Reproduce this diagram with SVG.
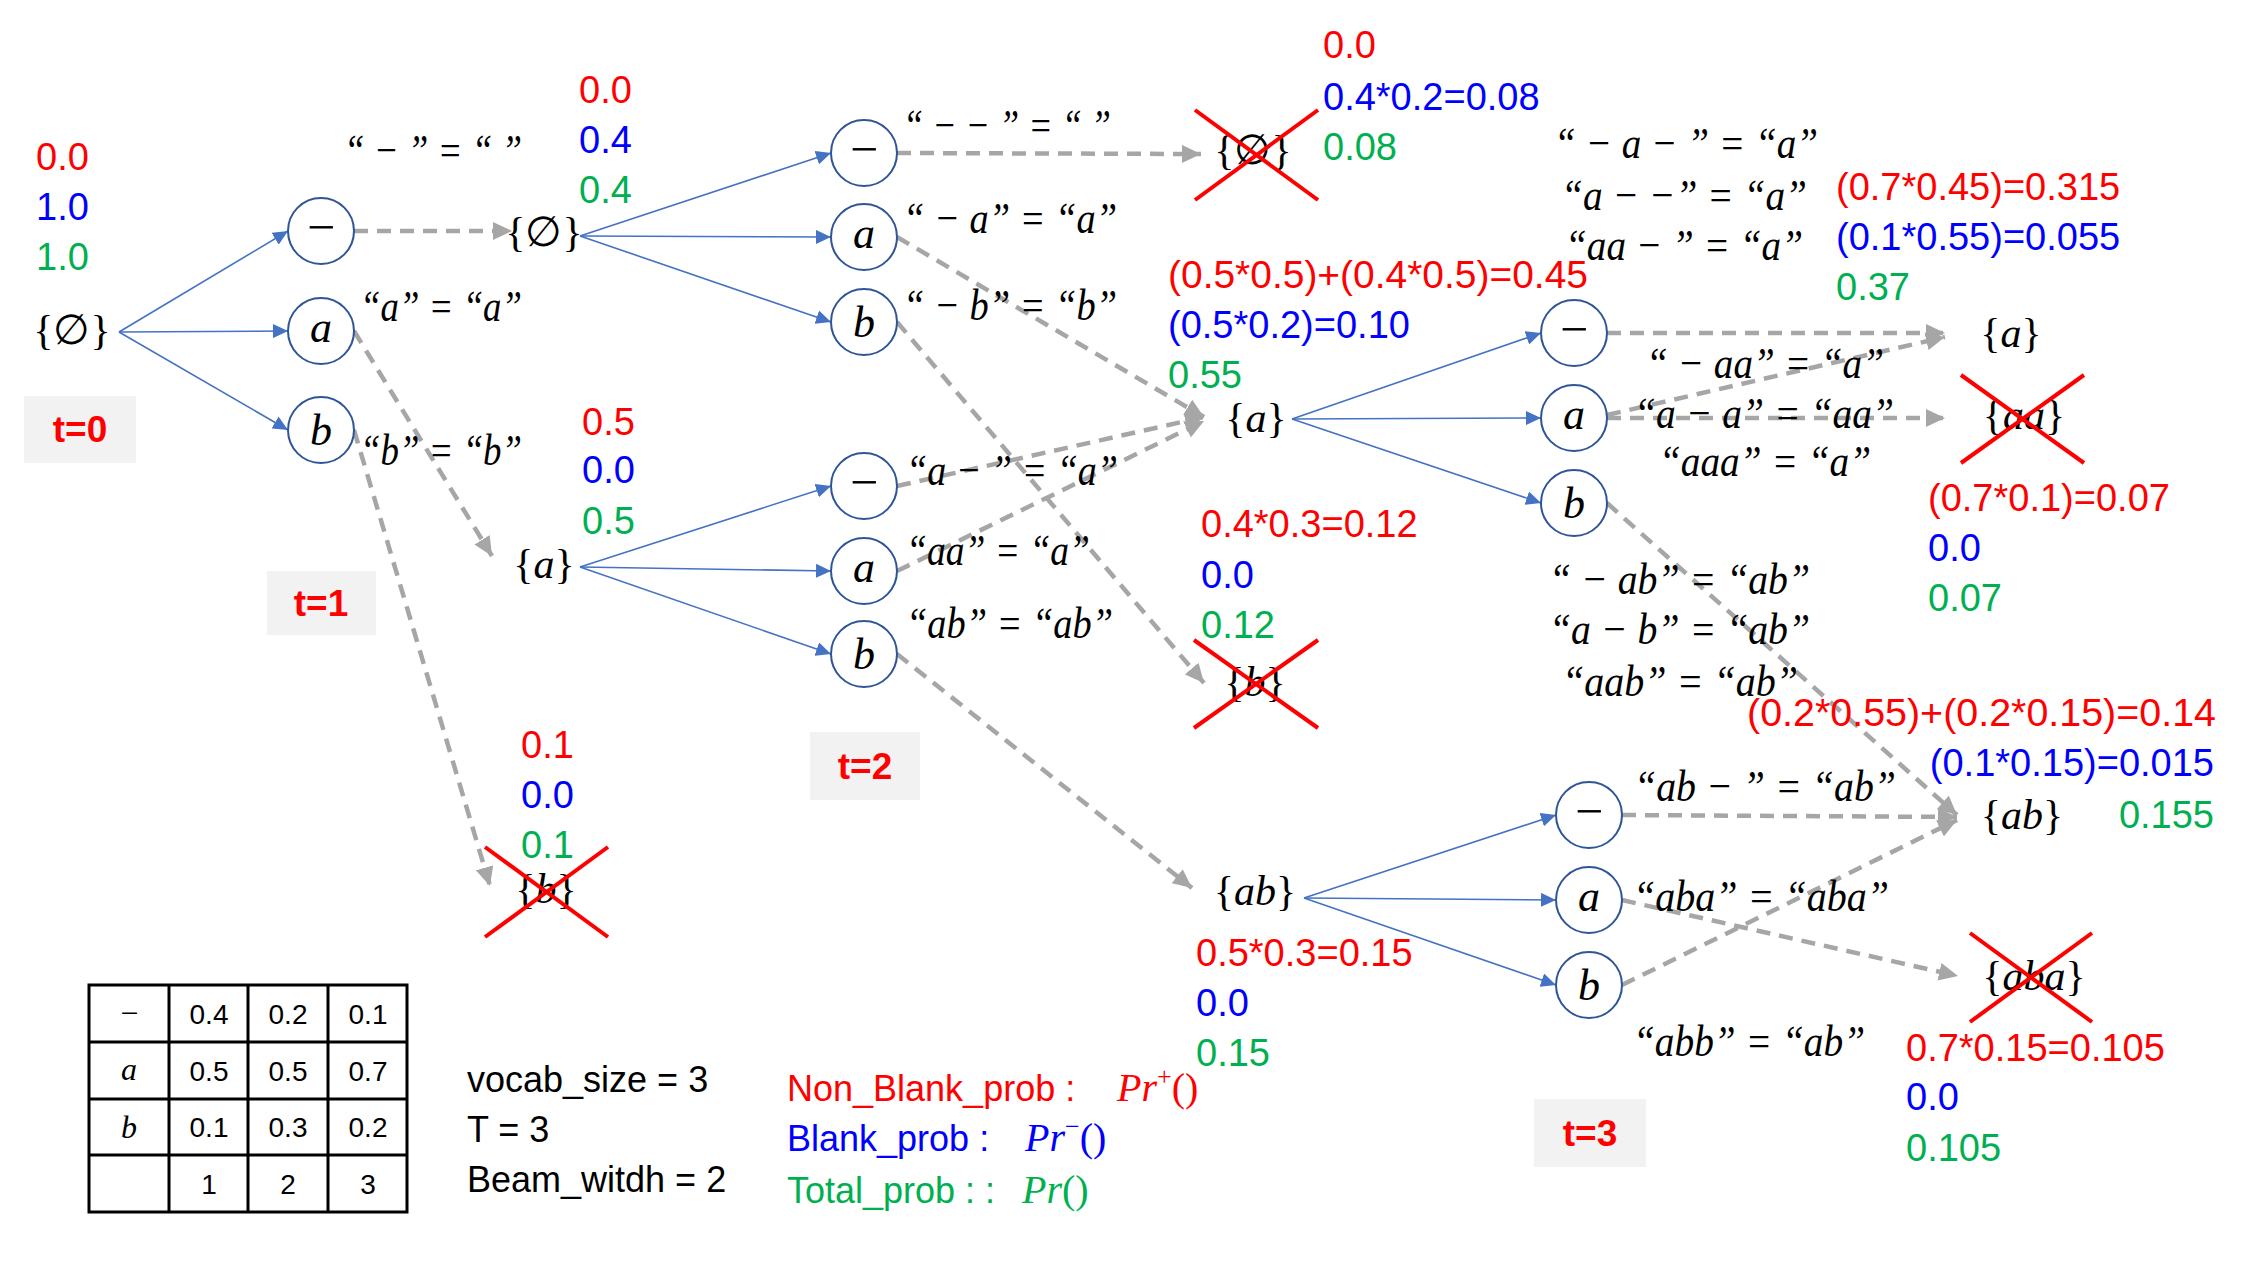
<svg xmlns="http://www.w3.org/2000/svg" width="2249" height="1265" viewBox="0 0 2249 1265">
<style>
.circ{fill:#fff;stroke:#2F5597;stroke-width:2}
.sym{font-family:"Liberation Serif","DejaVu Serif",serif;font-size:44px;font-style:italic;text-anchor:middle;fill:#000}
.mn{font-family:"Liberation Serif","DejaVu Serif",serif;font-size:50px;text-anchor:middle;fill:#000}
.node{font-family:"Liberation Serif","DejaVu Serif",serif;font-size:42px;text-anchor:middle;fill:#000}
.it{font-style:italic}
.lbl{font-family:"Liberation Serif","DejaVu Serif",serif;font-size:44px;font-style:italic;fill:#000}
.num{font-family:"Liberation Sans",Arial,sans-serif;font-size:38px}
.r{fill:#FF0000}.b{fill:#0000FF}.g{fill:#00B050}
.tbox{fill:#F2F2F2}
.tlab{font-family:"Liberation Sans",Arial,sans-serif;font-weight:bold;font-size:37px;fill:#FF0000;text-anchor:middle}
.blue{stroke:#4472C4;stroke-width:1.6;fill:none;marker-end:url(#ab)}
.dash{stroke:#A6A6A6;stroke-width:4.5;stroke-dasharray:14 9;fill:none;marker-end:url(#ag)}
.x{stroke:#FF0000;stroke-width:4}
.tbl{fill:none;stroke:#000;stroke-width:3}
.td{font-family:"Liberation Sans",Arial,sans-serif;font-size:28px;text-anchor:middle;fill:#000}
.tds{font-family:"Liberation Serif","DejaVu Serif",serif;font-size:32px;font-style:italic;text-anchor:middle;fill:#000}
.leg{font-family:"Liberation Sans",Arial,sans-serif;font-size:36px}
.pr{font-family:"Liberation Serif","DejaVu Serif",serif;font-size:40px;font-style:italic}
</style>
<defs>
<marker id="ab" markerUnits="userSpaceOnUse" markerWidth="16" markerHeight="14" refX="15" refY="7" orient="auto"><path d="M0,0 L15,7 L0,14 z" fill="#4472C4"/></marker>
<marker id="ag" markerUnits="userSpaceOnUse" markerWidth="20" markerHeight="18" refX="19" refY="9" orient="auto"><path d="M0,0 L19,9 L0,18 z" fill="#A6A6A6"/></marker>
</defs>
<rect width="2249" height="1265" fill="#fff"/>

<g id="connectors">
<path class="blue" d="M119,332 L288,231"/>
<path class="blue" d="M119,332 L288,331"/>
<path class="blue" d="M119,332 L288,430"/>
<path class="blue" d="M580,236 L831,153"/>
<path class="blue" d="M580,236 L831,237"/>
<path class="blue" d="M580,236 L831,322"/>
<path class="blue" d="M580,567 L831,486"/>
<path class="blue" d="M580,567 L831,571"/>
<path class="blue" d="M580,567 L831,654"/>
<path class="blue" d="M1292,419 L1541,333"/>
<path class="blue" d="M1292,419 L1541,418"/>
<path class="blue" d="M1292,419 L1541,503"/>
<path class="blue" d="M1304,898 L1556,815"/>
<path class="blue" d="M1304,898 L1556,900"/>
<path class="blue" d="M1304,898 L1556,985"/>
<path class="dash" d="M354,231 L512,231"/>
<path class="dash" d="M354,331 L492,556"/>
<path class="dash" d="M354,430 L490,886"/>
<path class="dash" d="M897,153 L1201,154"/>
<path class="dash" d="M897,237 L1204,417"/>
<path class="dash" d="M897,322 L1204,683"/>
<path class="dash" d="M897,486 L1204,417"/>
<path class="dash" d="M897,571 L1204,421"/>
<path class="dash" d="M897,654 L1192,888"/>
<path class="dash" d="M1607,333 L1945,333"/>
<path class="dash" d="M1607,415 L1945,337"/>
<path class="dash" d="M1607,418 L1945,418"/>
<path class="dash" d="M1607,503 L1957,815"/>
<path class="dash" d="M1622,815 L1957,817"/>
<path class="dash" d="M1622,900 L1958,976"/>
<path class="dash" d="M1622,985 L1957,820"/>
</g>

<g id="t0-root">
<text class="num r" x="36" y="170">0.0</text>
<text class="num b" x="36" y="220">1.0</text>
<text class="num g" x="36" y="270">1.0</text>
<text class="node" x="72" y="344">{∅}</text>
</g>
<g id="t0-label"><rect class="tbox" x="24" y="396" width="112" height="67"/><text class="tlab" x="80" y="442">t=0</text></g>

<g id="c1-blank"><circle class="circ" cx="321" cy="231" r="33"/><text class="mn" x="321" y="244">−</text></g>
<g id="c1-a"><circle class="circ" cx="321" cy="331" r="33"/><text class="sym" x="321" y="342">a</text></g>
<g id="c1-b"><circle class="circ" cx="321" cy="430" r="33"/><text class="sym" x="321" y="445">b</text></g>

<g id="labels1">
<text class="lbl" x="344" y="165" textLength="178" lengthAdjust="spacingAndGlyphs">“ − ” = “ ”</text>
<text class="lbl" x="360" y="321" textLength="162" lengthAdjust="spacingAndGlyphs">“a” = “a”</text>
<text class="lbl" x="360" y="465" textLength="162" lengthAdjust="spacingAndGlyphs">“b” = “b”</text>
</g>

<g id="t1-empty">
<text class="num r" x="579" y="103">0.0</text>
<text class="num b" x="579" y="153">0.4</text>
<text class="num g" x="579" y="203">0.4</text>
<text class="node" x="544" y="246">{∅}</text>
</g>
<g id="t1-a">
<text class="num r" x="582" y="435">0.5</text>
<text class="num b" x="582" y="483">0.0</text>
<text class="num g" x="582" y="534">0.5</text>
<text class="node" x="544" y="578">{<tspan class="it">a</tspan>}</text>
</g>
<g id="t1-b">
<text class="num r" x="521" y="758">0.1</text>
<text class="num b" x="521" y="808">0.0</text>
<text class="num g" x="521" y="858">0.1</text>
<text class="node" x="546" y="903">{<tspan class="it">b</tspan>}</text>
<line class="x" x1="485" y1="847" x2="608" y2="937"/><line class="x" x1="485" y1="937" x2="608" y2="847"/>
</g>
<g id="t1-label"><rect class="tbox" x="267" y="571" width="109" height="64"/><text class="tlab" x="321" y="616">t=1</text></g>

<g id="c2-blank1"><circle class="circ" cx="864" cy="153" r="33"/><text class="mn" x="864" y="166">−</text></g>
<g id="c2-a1"><circle class="circ" cx="864" cy="237" r="33"/><text class="sym" x="864" y="248">a</text></g>
<g id="c2-b1"><circle class="circ" cx="864" cy="322" r="33"/><text class="sym" x="864" y="337">b</text></g>
<g id="c2-blank2"><circle class="circ" cx="864" cy="486" r="33"/><text class="mn" x="864" y="499">−</text></g>
<g id="c2-a2"><circle class="circ" cx="864" cy="571" r="33"/><text class="sym" x="864" y="582">a</text></g>
<g id="c2-b2"><circle class="circ" cx="864" cy="654" r="33"/><text class="sym" x="864" y="669">b</text></g>

<g id="labels2">
<text class="lbl" x="903" y="140" textLength="208" lengthAdjust="spacingAndGlyphs">“ − − ” = “ ”</text>
<text class="lbl" x="903" y="233" textLength="214" lengthAdjust="spacingAndGlyphs">“ − a” = “a”</text>
<text class="lbl" x="903" y="320" textLength="214" lengthAdjust="spacingAndGlyphs">“ − b” = “b”</text>
<text class="lbl" x="906" y="485" textLength="212" lengthAdjust="spacingAndGlyphs">“a − ” = “a”</text>
<text class="lbl" x="906" y="565" textLength="184" lengthAdjust="spacingAndGlyphs">“aa” = “a”</text>
<text class="lbl" x="906" y="638" textLength="207" lengthAdjust="spacingAndGlyphs">“ab” = “ab”</text>
</g>
<g id="t2-label"><rect class="tbox" x="810" y="732" width="110" height="68"/><text class="tlab" x="865" y="779">t=2</text></g>

<g id="t2-empty">
<text class="num r" x="1323" y="58">0.0</text>
<text class="num b" x="1323" y="110">0.4*0.2=0.08</text>
<text class="num g" x="1323" y="160">0.08</text>
<text class="node" x="1253" y="164">{∅}</text>
<line class="x" x1="1195" y1="110" x2="1318" y2="200"/><line class="x" x1="1195" y1="200" x2="1318" y2="110"/>
</g>
<g id="t2-a">
<text class="num r" x="1168" y="288" textLength="420" lengthAdjust="spacingAndGlyphs">(0.5*0.5)+(0.4*0.5)=0.45</text>
<text class="num b" x="1168" y="338">(0.5*0.2)=0.10</text>
<text class="num g" x="1168" y="388">0.55</text>
<text class="node" x="1256" y="432">{<tspan class="it">a</tspan>}</text>
</g>
<g id="t2-b">
<text class="num r" x="1201" y="537">0.4*0.3=0.12</text>
<text class="num b" x="1201" y="588">0.0</text>
<text class="num g" x="1201" y="638">0.12</text>
<text class="node" x="1255" y="696">{<tspan class="it">b</tspan>}</text>
<line class="x" x1="1194" y1="640" x2="1318" y2="728"/><line class="x" x1="1194" y1="728" x2="1318" y2="640"/>
</g>
<g id="t2-ab">
<text class="node" x="1255" y="905">{<tspan class="it">ab</tspan>}</text>
<text class="num r" x="1196" y="966">0.5*0.3=0.15</text>
<text class="num b" x="1196" y="1016">0.0</text>
<text class="num g" x="1196" y="1066">0.15</text>
</g>

<g id="c3-blank1"><circle class="circ" cx="1574" cy="333" r="33"/><text class="mn" x="1574" y="346">−</text></g>
<g id="c3-a1"><circle class="circ" cx="1574" cy="418" r="33"/><text class="sym" x="1574" y="429">a</text></g>
<g id="c3-b1"><circle class="circ" cx="1574" cy="503" r="33"/><text class="sym" x="1574" y="518">b</text></g>
<g id="c3-blank2"><circle class="circ" cx="1589" cy="815" r="33"/><text class="mn" x="1589" y="828">−</text></g>
<g id="c3-a2"><circle class="circ" cx="1589" cy="900" r="33"/><text class="sym" x="1589" y="911">a</text></g>
<g id="c3-b2"><circle class="circ" cx="1589" cy="985" r="33"/><text class="sym" x="1589" y="1000">b</text></g>

<g id="labels3">
<text class="lbl" x="1554" y="158" textLength="264" lengthAdjust="spacingAndGlyphs">“ − a − ” = “a”</text>
<text class="lbl" x="1561" y="210" textLength="246" lengthAdjust="spacingAndGlyphs">“a − −” = “a”</text>
<text class="lbl" x="1565" y="260" textLength="238" lengthAdjust="spacingAndGlyphs">“aa − ” = “a”</text>
<text class="lbl" x="1646" y="378" textLength="238" lengthAdjust="spacingAndGlyphs">“ − aa” = “a”</text>
<text class="lbl" x="1634" y="428" textLength="260" lengthAdjust="spacingAndGlyphs">“a − a” = “aa”</text>
<text class="lbl" x="1659" y="476" textLength="212" lengthAdjust="spacingAndGlyphs">“aaa” = “a”</text>
<text class="lbl" x="1549" y="594" textLength="261" lengthAdjust="spacingAndGlyphs">“ − ab” = “ab”</text>
<text class="lbl" x="1549" y="644" textLength="261" lengthAdjust="spacingAndGlyphs">“a − b” = “ab”</text>
<text class="lbl" x="1562" y="696" textLength="236" lengthAdjust="spacingAndGlyphs">“aab” = “ab”</text>
<text class="lbl" x="1634" y="801" textLength="262" lengthAdjust="spacingAndGlyphs">“ab − ” = “ab”</text>
<text class="lbl" x="1633" y="911" textLength="256" lengthAdjust="spacingAndGlyphs">“aba” = “aba”</text>
<text class="lbl" x="1633" y="1056" textLength="232" lengthAdjust="spacingAndGlyphs">“abb” = “ab”</text>
</g>
<g id="t3-label"><rect class="tbox" x="1534" y="1099" width="112" height="68"/><text class="tlab" x="1590" y="1146">t=3</text></g>

<g id="t3-a">
<text class="num r" x="1836" y="200">(0.7*0.45)=0.315</text>
<text class="num b" x="1836" y="250">(0.1*0.55)=0.055</text>
<text class="num g" x="1836" y="300">0.37</text>
<text class="node" x="2011" y="347">{<tspan class="it">a</tspan>}</text>
</g>
<g id="t3-aa">
<text class="node" x="2024" y="429">{<tspan class="it">aa</tspan>}</text>
<line class="x" x1="1961" y1="375" x2="2084" y2="463"/><line class="x" x1="1961" y1="463" x2="2084" y2="375"/>
<text class="num r" x="1928" y="511">(0.7*0.1)=0.07</text>
<text class="num b" x="1928" y="561">0.0</text>
<text class="num g" x="1928" y="611">0.07</text>
</g>
<g id="t3-ab">
<text class="num r" x="1747" y="726" textLength="469" lengthAdjust="spacingAndGlyphs">(0.2*0.55)+(0.2*0.15)=0.14</text>
<text class="num b" x="2214" y="776" text-anchor="end">(0.1*0.15)=0.015</text>
<text class="num g" x="2214" y="828" text-anchor="end">0.155</text>
<text class="node" x="2022" y="829">{<tspan class="it">ab</tspan>}</text>
</g>
<g id="t3-aba">
<text class="node" x="2034" y="990">{<tspan class="it">aba</tspan>}</text>
<line class="x" x1="1970" y1="933" x2="2092" y2="1022"/><line class="x" x1="1970" y1="1022" x2="2092" y2="933"/>
<text class="num r" x="1906" y="1061">0.7*0.15=0.105</text>
<text class="num b" x="1906" y="1110">0.0</text>
<text class="num g" x="1906" y="1161">0.105</text>
</g>

<g id="prob-table">
<rect class="tbl" x="89" y="985" width="318" height="227"/>
<line class="tbl" x1="169" y1="985" x2="169" y2="1212"/>
<line class="tbl" x1="248" y1="985" x2="248" y2="1212"/>
<line class="tbl" x1="328" y1="985" x2="328" y2="1212"/>
<line class="tbl" x1="89" y1="1042" x2="407" y2="1042"/>
<line class="tbl" x1="89" y1="1099" x2="407" y2="1099"/>
<line class="tbl" x1="89" y1="1155" x2="407" y2="1155"/>
<text class="tds" x="129" y="1024" font-style="normal">−</text>
<text class="td" x="209" y="1024">0.4</text><text class="td" x="288" y="1024">0.2</text><text class="td" x="368" y="1024">0.1</text>
<text class="tds" x="129" y="1080">a</text>
<text class="td" x="209" y="1081">0.5</text><text class="td" x="288" y="1081">0.5</text><text class="td" x="368" y="1081">0.7</text>
<text class="tds" x="129" y="1138">b</text>
<text class="td" x="209" y="1137">0.1</text><text class="td" x="288" y="1137">0.3</text><text class="td" x="368" y="1137">0.2</text>
<text class="td" x="209" y="1194">1</text><text class="td" x="288" y="1194">2</text><text class="td" x="368" y="1194">3</text>
</g>

<g id="params">
<text class="leg" x="467" y="1092" fill="#000">vocab_size = 3</text>
<text class="leg" x="467" y="1142" fill="#000">T = 3</text>
<text class="leg" x="467" y="1192" fill="#000">Beam_witdh = 2</text>
</g>

<g id="legend">
<text class="leg r" x="787" y="1101">Non_Blank_prob :</text>
<text class="pr r" x="1117" y="1101">Pr<tspan font-size="26" dy="-16" font-style="normal">+</tspan><tspan dy="16" font-style="normal">()</tspan></text>
<text class="leg b" x="787" y="1151">Blank_prob :</text>
<text class="pr b" x="1025" y="1151">Pr<tspan font-size="26" dy="-16" font-style="normal">−</tspan><tspan dy="16" font-style="normal">()</tspan></text>
<text class="leg g" x="787" y="1203">Total_prob : :</text>
<text class="pr g" x="1022" y="1203">Pr<tspan font-style="normal">()</tspan></text>
</g>
</svg>
